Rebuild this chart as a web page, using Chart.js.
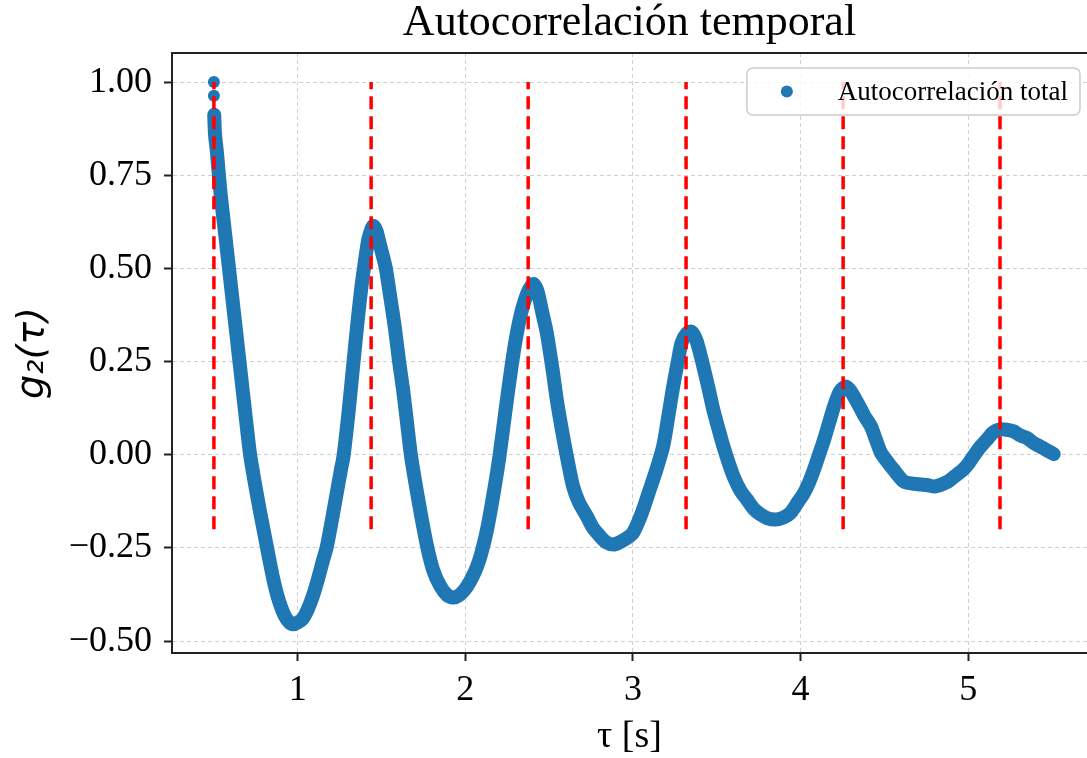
<!DOCTYPE html>
<html>
<head>
<meta charset="utf-8">
<script src="https://cdn.jsdelivr.net/npm/chart.js@4/dist/chart.umd.min.js"></script>
<style>
  html, body { margin: 0; padding: 0; background: #ffffff; }
  #wrap { width: 1087px; height: 758px; }
</style>
</head>
<body>
<div id="wrap"><canvas id="c" width="1087" height="758"></canvas></div>
<script>
// Lag times (s) and measured autocorrelation g2(tau)
const tau = [
  0.500, 0.500, 0.502, 0.505, 0.508, 0.512, 0.518, 0.525, 0.540, 0.560,
  0.580, 0.600, 0.620, 0.640, 0.660, 0.680, 0.700, 0.716, 0.740, 0.770,
  0.800, 0.830, 0.860, 0.890, 0.920, 0.950, 0.974, 1.000, 1.030, 1.060,
  1.090, 1.120, 1.150, 1.174, 1.200, 1.230, 1.260, 1.273, 1.300, 1.320,
  1.342, 1.360, 1.380, 1.400, 1.420, 1.440, 1.452, 1.470, 1.490, 1.510,
  1.526, 1.550, 1.580, 1.605, 1.630, 1.655, 1.675, 1.700, 1.735, 1.774,
  1.810, 1.850, 1.890, 1.929, 1.960, 2.000, 2.040, 2.070, 2.095, 2.130,
  2.170, 2.205, 2.240, 2.275, 2.305, 2.330, 2.355, 2.380, 2.406, 2.430,
  2.460, 2.486, 2.520, 2.546, 2.575, 2.606, 2.643, 2.680, 2.725, 2.760,
  2.804, 2.840, 2.884, 2.920, 2.960, 3.000, 3.050, 3.100, 3.140, 3.180,
  3.210, 3.240, 3.270, 3.290, 3.320, 3.350, 3.380, 3.420, 3.450, 3.480,
  3.510, 3.540, 3.570, 3.600, 3.640, 3.680, 3.720, 3.760, 3.800, 3.850,
  3.900, 3.940, 3.980, 4.020, 4.050, 4.080, 4.110, 4.140, 4.170, 4.200,
  4.235, 4.270, 4.300, 4.340, 4.380, 4.420, 4.450, 4.480, 4.520, 4.555,
  4.590, 4.617, 4.660, 4.720, 4.760, 4.800, 4.840, 4.880, 4.920, 4.970,
  5.000, 5.030, 5.070, 5.110, 5.150, 5.190, 5.230, 5.270, 5.310, 5.350,
  5.390, 5.430, 5.470, 5.510
];
const g2 = [
  1.000, 0.963, 0.912, 0.872, 0.852, 0.836, 0.812, 0.775, 0.700, 0.620,
  0.540, 0.460, 0.380, 0.300, 0.220, 0.140, 0.060, 0.000, -0.065, -0.140,
  -0.210, -0.280, -0.345, -0.395, -0.430, -0.450, -0.455, -0.450, -0.440, -0.415,
  -0.380, -0.335, -0.285, -0.246, -0.185, -0.110, -0.035, -0.005, 0.100, 0.190,
  0.290, 0.370, 0.450, 0.515, 0.575, 0.606, 0.614, 0.600, 0.565, 0.530,
  0.500, 0.430, 0.340, 0.250, 0.170, 0.075, 0.000, -0.070, -0.160, -0.250,
  -0.312, -0.352, -0.376, -0.383, -0.378, -0.360, -0.330, -0.300, -0.265, -0.200,
  -0.100, 0.000, 0.120, 0.235, 0.320, 0.375, 0.415, 0.443, 0.458, 0.440,
  0.380, 0.327, 0.230, 0.147, 0.070, -0.005, -0.085, -0.130, -0.165, -0.195,
  -0.219, -0.235, -0.241, -0.235, -0.225, -0.210, -0.160, -0.094, -0.040, 0.022,
  0.100, 0.183, 0.255, 0.300, 0.325, 0.330, 0.305, 0.237, 0.180, 0.120,
  0.070, 0.022, -0.020, -0.058, -0.095, -0.120, -0.145, -0.160, -0.170, -0.174,
  -0.168, -0.156, -0.130, -0.103, -0.075, -0.040, 0.000, 0.040, 0.085, 0.130,
  0.170, 0.183, 0.170, 0.139, 0.105, 0.076, 0.040, 0.005, -0.020, -0.040,
  -0.060, -0.072, -0.077, -0.080, -0.082, -0.085, -0.080, -0.072, -0.058, -0.040,
  -0.025, -0.005, 0.020, 0.040, 0.060, 0.068, 0.067, 0.063, 0.052, 0.045,
  0.032, 0.022, 0.012, 0.002
];

// Expected oscillation maxima (s), drawn as vertical markers
const peakTimes = [0.500, 1.438, 2.375, 3.317, 4.254, 5.190];
const markerLow = -0.2;
const markerHigh = 1.0;

// Axis ticks
const xTicks = [1, 2, 3, 4, 5];
const yTicks = [-0.50, -0.25, 0.00, 0.25, 0.50, 0.75, 1.00];

const seriesLabel = 'Autocorrelación total';
const BLUE = '#1f77b4';
const SERIF = "'Liberation Serif', 'Times New Roman', serif";

const points = tau.map((t, i) => ({ x: t, y: g2[i] }));

const markerSets = peakTimes.map(t => ({
  type: 'line',
  label: 'pico',
  data: [{ x: t, y: markerLow }, { x: t, y: markerHigh }],
  borderColor: '#ff0000',
  borderWidth: 3.5,
  borderDash: [13, 7],
  pointRadius: 0,
  fill: false,
  order: 0
}));

// Top spine of the axes box
const framePlugin = {
  id: 'frameTop',
  afterDatasetsDraw(chart) {
    const { ctx, chartArea: a } = chart;
    ctx.save();
    ctx.strokeStyle = '#222222';
    ctx.lineWidth = 2;
    ctx.beginPath();
    ctx.moveTo(a.left - 1, a.top);
    ctx.lineTo(a.right, a.top);
    ctx.stroke();
    ctx.restore();
  }
};

// Legend box in the upper-right corner of the axes
const insetLegend = {
  id: 'insetLegend',
  afterDraw(chart) {
    const { ctx, chartArea: a } = chart;
    const ds = chart.data.datasets.find(d => d.isSeries);
    ctx.save();
    ctx.font = '27px ' + SERIF;
    const tw = ctx.measureText(ds.label).width;
    const h = 47;
    const w = 91 + tw + 12;
    const x0 = 1080 - w;
    const y0 = a.top + 15;
    const r = 6;
    ctx.beginPath();
    ctx.moveTo(x0 + r, y0);
    ctx.lineTo(x0 + w - r, y0);
    ctx.arcTo(x0 + w, y0, x0 + w, y0 + r, r);
    ctx.lineTo(x0 + w, y0 + h - r);
    ctx.arcTo(x0 + w, y0 + h, x0 + w - r, y0 + h, r);
    ctx.lineTo(x0 + r, y0 + h);
    ctx.arcTo(x0, y0 + h, x0, y0 + h - r, r);
    ctx.lineTo(x0, y0 + r);
    ctx.arcTo(x0, y0, x0 + r, y0, r);
    ctx.closePath();
    ctx.fillStyle = 'rgba(255,255,255,0.8)';
    ctx.fill();
    ctx.strokeStyle = '#cccccc';
    ctx.lineWidth = 1.5;
    ctx.stroke();
    const cy = y0 + h / 2;
    ctx.beginPath();
    ctx.arc(x0 + 40, cy, 6, 0, Math.PI * 2);
    ctx.fillStyle = ds.backgroundColor;
    ctx.fill();
    ctx.fillStyle = '#000000';
    ctx.textAlign = 'left';
    ctx.textBaseline = 'middle';
    ctx.fillText(ds.label, x0 + 91, cy + 1);
    ctx.restore();
  }
};

Chart.defaults.font.family = SERIF;
Chart.defaults.color = '#000000';

new Chart(document.getElementById('c'), {
  type: 'scatter',
  data: {
    datasets: [
      ...markerSets,
      {
        label: seriesLabel,
        isSeries: true,
        data: points,
        showLine: true,
        borderColor: BLUE,
        backgroundColor: BLUE,
        borderWidth: 14,
        borderCapStyle: 'round',
        borderJoinStyle: 'round',
        tension: 0.25,
        pointRadius: 6,
        pointBorderWidth: 0,
        pointBackgroundColor: BLUE,
        pointHoverRadius: 6,
        order: 1,
        segment: {
          borderColor: c => (c.p1DataIndex <= 2 ? 'rgba(0,0,0,0)' : undefined)
        }
      }
    ]
  },
  options: {
    responsive: false,
    devicePixelRatio: 1,
    animation: false,
    layout: { padding: 0, autoPadding: false },
    plugins: {
      legend: { display: false },
      tooltip: { enabled: false },
      title: {
        display: true,
        fullSize: false,
        text: 'Autocorrelación temporal',
        color: '#000000',
        font: { family: SERIF, size: 44, weight: 'normal', lineHeight: 47 / 44 },
        padding: { top: 0, bottom: 6 }
      }
    },
    scales: {
      x: {
        type: 'linear',
        min: 0.25,
        max: 5.709,
        afterBuildTicks: s => { s.ticks = xTicks.map(v => ({ value: v })); },
        afterFit: s => { s.height = 105; s.paddingLeft = 0; s.paddingRight = 0; },
        ticks: {
          font: { family: SERIF, size: 36 },
          color: '#000000',
          padding: 8,
          maxRotation: 0,
          callback: v => String(v)
        },
        grid: {
          color: '#cfcfcf',
          lineWidth: 1,
          drawTicks: true,
          tickLength: 8,
          tickWidth: 2,
          tickColor: '#222222',
          tickBorderDash: []
        },
        border: { display: true, color: '#222222', width: 2, dash: [4, 3] },
        title: {
          display: true,
          text: 'τ [s]',
          color: '#000000',
          font: { family: SERIF, size: 38, lineHeight: 1.1 },
          padding: { top: 0, bottom: 0 }
        }
      },
      y: {
        type: 'linear',
        min: -0.532,
        max: 1.078,
        afterBuildTicks: s => { s.ticks = yTicks.map(v => ({ value: v })); },
        afterFit: s => { s.width = 172; s.paddingTop = 0; s.paddingBottom = 0; },
        ticks: {
          font: { family: SERIF, size: 36 },
          color: '#000000',
          padding: 12,
          callback: v => (v < 0 ? '\u2212' : '') + Math.abs(v).toFixed(2)
        },
        grid: {
          color: '#cfcfcf',
          lineWidth: 1,
          drawTicks: true,
          tickLength: 8,
          tickWidth: 2,
          tickColor: '#222222',
          tickBorderDash: []
        },
        border: { display: true, color: '#222222', width: 2, dash: [4, 3] },
        title: {
          display: true,
          text: 'g₂(τ)',
          color: '#000000',
          font: { family: "'DejaVu Sans', sans-serif", size: 38, style: 'italic', lineHeight: 1.2 },
          padding: { top: 10, bottom: 0 }
        }
      }
    }
  },
  plugins: [framePlugin, insetLegend]
});
</script>
</body>
</html>
